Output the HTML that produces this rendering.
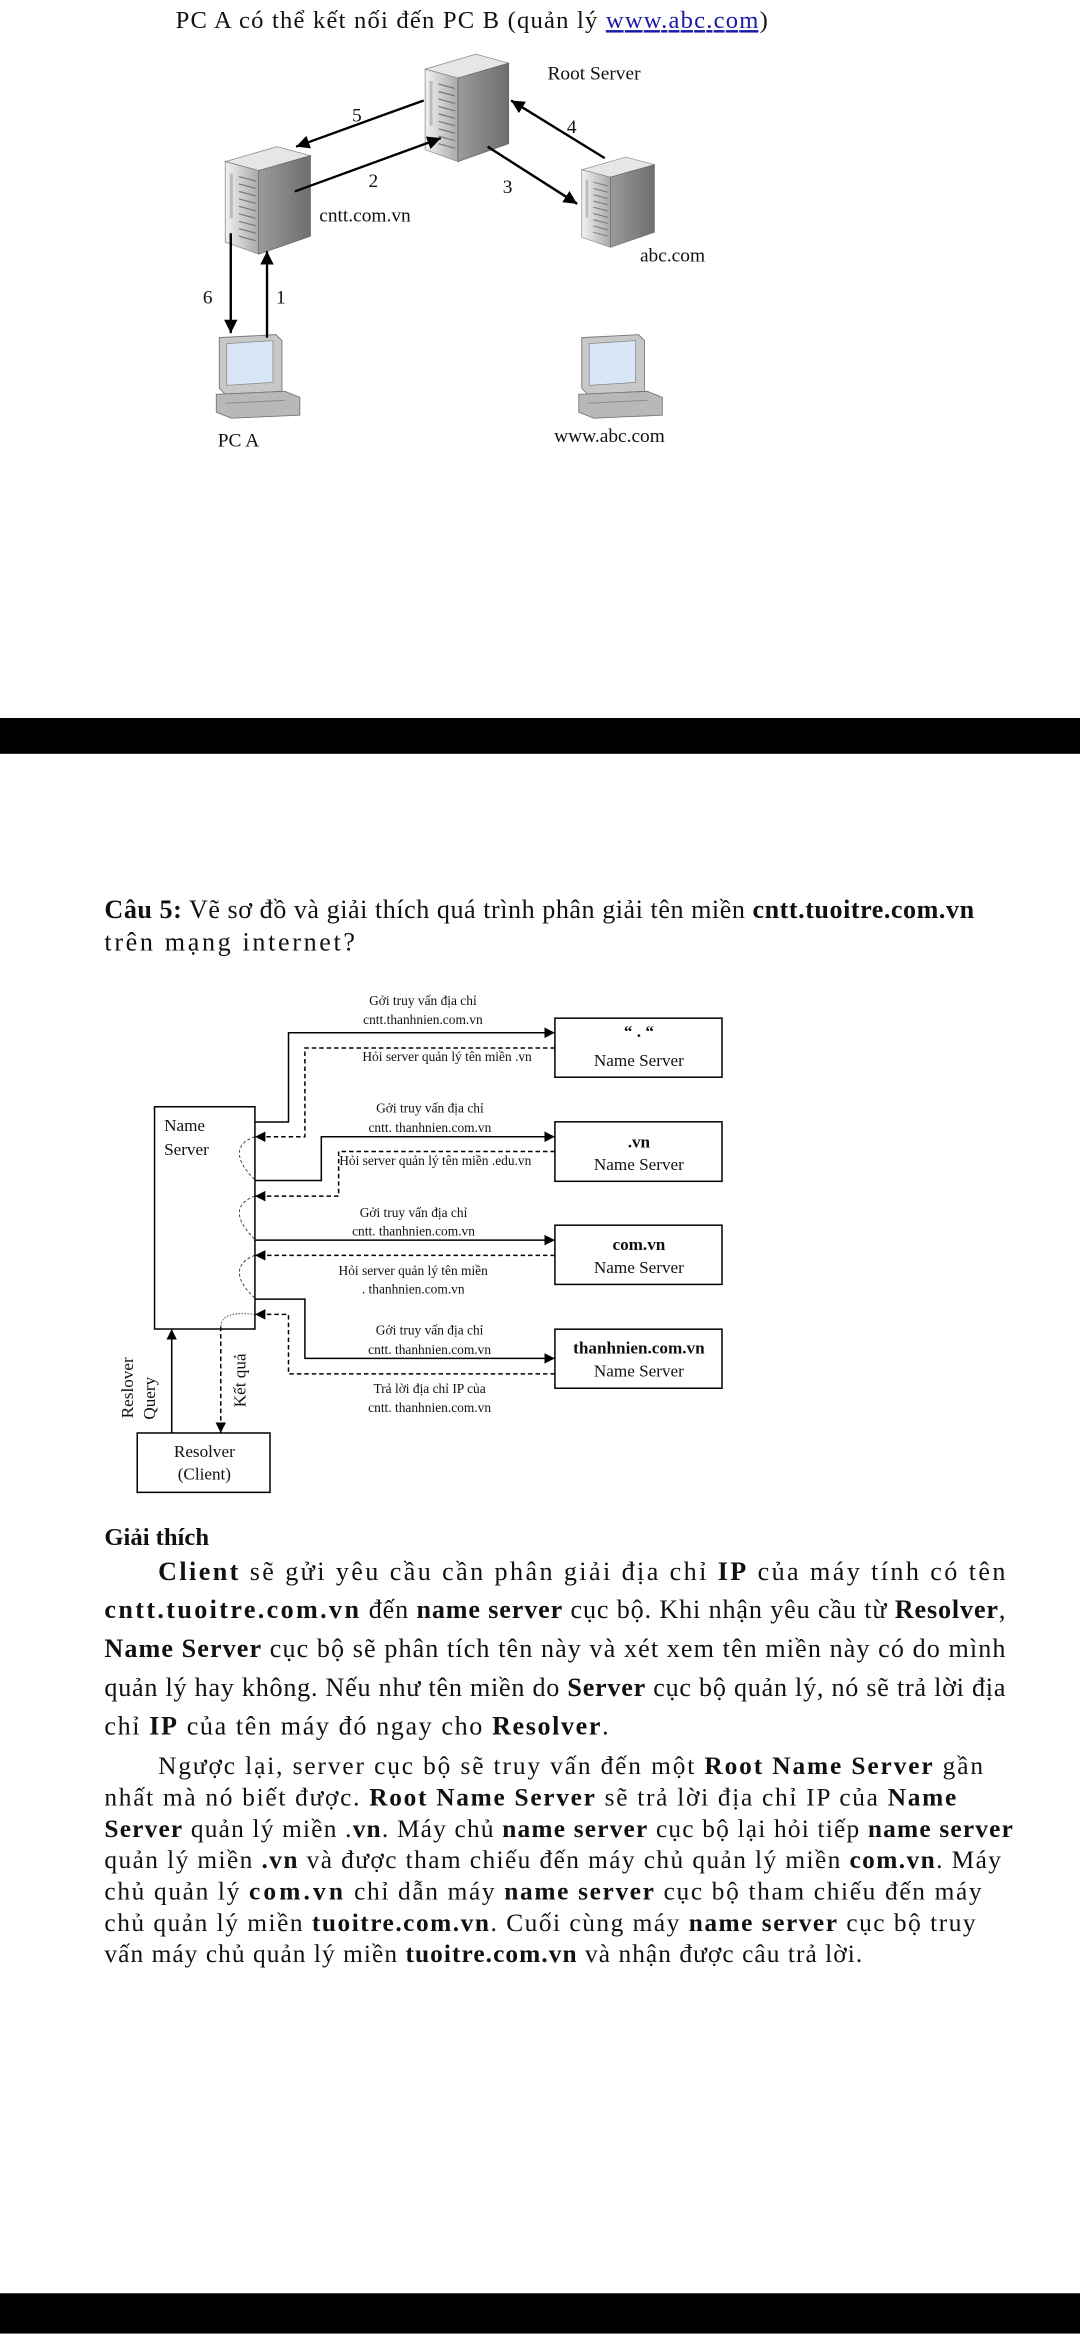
<!DOCTYPE html>
<html><head><meta charset="utf-8"><style>
html,body{margin:0;padding:0;background:#fff;}
svg{display:block;}
text{font-family:"Liberation Serif","DejaVu Serif",serif;fill:#111;}
.b{font-weight:bold;}
</style></head><body>
<svg width="1080" height="2340" viewBox="0 0 724 1560" xmlns="http://www.w3.org/2000/svg">
<defs>
<marker id="ah" viewBox="0 0 10 10" refX="10" refY="5" markerWidth="7" markerHeight="7" orient="auto" markerUnits="userSpaceOnUse"><path d="M0,0 L10,5 L0,10 z" fill="#000"/></marker>
<marker id="ah2" viewBox="0 0 10 10" refX="10" refY="5" markerWidth="9" markerHeight="9" orient="auto" markerUnits="userSpaceOnUse"><path d="M0,0 L10,5 L0,10 z" fill="#000"/></marker>
<linearGradient id="gf" x1="0" x2="1"><stop offset="0" stop-color="#f2f2f2"/><stop offset="1" stop-color="#a8a8a8"/></linearGradient>
<linearGradient id="gs" x1="0" x2="1"><stop offset="0" stop-color="#9a9a9a"/><stop offset="1" stop-color="#6e6e6e"/></linearGradient>
<g id="srv">
<polygon points="0,10 34,0 56,6 22,16" fill="#e6e6e6" stroke="#888" stroke-width="0.5"/>
<polygon points="0,10 22,16 22,72 0,64" fill="url(#gf)" stroke="#888" stroke-width="0.5"/>
<polygon points="22,16 56,6 56,60 22,72" fill="url(#gs)" stroke="#666" stroke-width="0.5"/>
<g stroke="#777" stroke-width="0.8">
<line x1="9" y1="20" x2="20" y2="23"/><line x1="9" y1="25" x2="20" y2="28"/><line x1="9" y1="30" x2="20" y2="33"/><line x1="9" y1="35" x2="20" y2="38"/><line x1="9" y1="40" x2="20" y2="43"/><line x1="9" y1="45" x2="20" y2="48"/><line x1="9" y1="50" x2="20" y2="53"/><line x1="9" y1="55" x2="20" y2="58"/><line x1="9" y1="60" x2="20" y2="63"/>
</g>
<rect x="3" y="18" width="2" height="30" fill="#bbb"/>
</g>
<g id="pc">
<polygon points="2,2 40,0 44,4 44,38 6,40 2,36" fill="#c8c8c8" stroke="#777" stroke-width="0.6"/>
<polygon points="7,6 38,4 38,32 7,34" fill="#d8e6f8" stroke="#888" stroke-width="0.5"/>
<polygon points="0,40 46,38 56,42 56,54 10,56 0,52" fill="#b8b8b8" stroke="#777" stroke-width="0.6"/>
<line x1="6" y1="46" x2="46" y2="44" stroke="#888" stroke-width="0.6"/>
</g>
</defs>

<text x="117.7" y="14.5" font-size="16.5" textLength="397" lengthAdjust="spacing">PC A có thể kết nối đến PC B (quản lý <tspan fill="#1a1aa6" text-decoration="underline">www.abc.com</tspan>)</text>

<use href="#srv" transform="translate(285,32)"/>
<use href="#srv" transform="translate(151,94) scale(1.02,1)"/>
<use href="#srv" transform="translate(390,101) scale(0.87,0.84)"/>
<use href="#pc" transform="translate(145,220)"/>
<use href="#pc" transform="translate(388,220)"/>

<g font-size="13">
<text x="367" y="49">Root Server</text>
<text x="214" y="144">cntt.com.vn</text>
<text x="429" y="171">abc.com</text>
<text x="146" y="295">PC A</text>
<text x="371.5" y="292">www.abc.com</text>
<text x="236" y="77">5</text>
<text x="247" y="121">2</text>
<text x="337" y="125">3</text>
<text x="380" y="85">4</text>
<text x="136" y="199">6</text>
<text x="185" y="199">1</text>
</g>
<g stroke="#000" stroke-width="1.6" fill="none">
<line x1="284" y1="63" x2="198.5" y2="94" marker-end="url(#ah2)"/>
<line x1="197.6" y1="124" x2="295.5" y2="88.3" marker-end="url(#ah2)"/>
<line x1="326.9" y1="94" x2="386.9" y2="132.3" marker-end="url(#ah2)"/>
<line x1="405.4" y1="101.7" x2="342.6" y2="63" marker-end="url(#ah2)"/>
<line x1="154.7" y1="152" x2="154.7" y2="219" marker-end="url(#ah2)"/>
<line x1="179" y1="222" x2="179" y2="164" marker-end="url(#ah2)"/>
</g>

<rect x="0" y="477" width="724" height="24" fill="#000"/>
<rect x="0" y="1533" width="724" height="27" fill="#000"/>

<text x="70" y="611" font-size="17.5" textLength="583" lengthAdjust="spacing"><tspan class="b">Câu 5:</tspan> Vẽ sơ đồ và giải thích quá trình phân giải tên miền <tspan class="b">cntt.tuoitre.com.vn</tspan></text>
<text x="70" y="633" font-size="17.5" textLength="168" lengthAdjust="spacing">trên mạng internet?</text>

<g fill="none" stroke="#000" stroke-width="1">
<rect x="103.6" y="737.6" width="67.3" height="149"/>
<rect x="92" y="956.3" width="89" height="39.8"/>
<rect x="372" y="678.2" width="112" height="39.6"/>
<rect x="372" y="747.7" width="112" height="39.9"/>
<rect x="372" y="817" width="112" height="39.7"/>
<rect x="372" y="886.7" width="112" height="39.6"/>
</g>
<g fill="none" stroke="#000" stroke-width="1">
<polyline points="170.9,747.8 193.4,747.8 193.4,688 372,688" marker-end="url(#ah)"/>
<polyline points="170.9,787 215.4,787 215.4,757.7 372,757.7" marker-end="url(#ah)"/>
<polyline points="170.9,827 372,827" marker-end="url(#ah)"/>
<polyline points="170.9,866.6 204.4,866.6 204.4,906.3 372,906.3" marker-end="url(#ah)"/>
<line x1="115.1" y1="956.3" x2="115.1" y2="886.7" marker-end="url(#ah)"/>
</g>
<g fill="none" stroke="#000" stroke-width="1" stroke-dasharray="3,2">
<polyline points="372,698.2 204.4,698.2 204.4,757.7 170.9,757.7" marker-end="url(#ah)"/>
<polyline points="372,767.6 227,767.6 227,797.5 170.9,797.5" marker-end="url(#ah)"/>
<polyline points="372,837.2 170.9,837.2" marker-end="url(#ah)"/>
<polyline points="372,916.7 193.4,916.7 193.4,876.8 170.9,876.8" marker-end="url(#ah)"/>
<line x1="148" y1="885" x2="148" y2="956.3" marker-end="url(#ah)"/>
</g>
<g fill="none" stroke="#333" stroke-width="0.6" stroke-dasharray="2,1.5">
<path d="M170.9,757.7 C158,762 156,772 170.9,786.5"/>
<path d="M170.9,797.5 C158,802 156,812 170.9,826.5"/>
<path d="M170.9,837.2 C158,842 156,852 170.9,866"/>
<path d="M170.9,876.8 C160,876 148,875 148,886" stroke-dasharray="1,1"/>
</g>

<g font-size="9" text-anchor="middle">
<text x="283.5" y="669.5">Gởi truy vấn địa chỉ</text>
<text x="283.5" y="682.3">cntt.thanhnien.com.vn</text>
<text x="299.7" y="707">Hỏi server quản lý tên miền .vn</text>
<text x="288.2" y="741.5">Gởi truy vấn địa chỉ</text>
<text x="288.2" y="754.4">cntt. thanhnien.com.vn</text>
<text x="291.8" y="776.8">Hỏi server quản lý tên miền .edu.vn</text>
<text x="277.2" y="811.4">Gởi truy vấn địa chỉ</text>
<text x="277.2" y="824">cntt. thanhnien.com.vn</text>
<text x="277" y="850.5">Hỏi server quản lý tên miền</text>
<text x="277" y="862.7">. thanhnien.com.vn</text>
<text x="288" y="890.4">Gởi truy vấn địa chỉ</text>
<text x="288" y="903.5">cntt. thanhnien.com.vn</text>
<text x="288" y="929.6">Trả lời địa chỉ IP của</text>
<text x="288" y="942.2">cntt. thanhnien.com.vn</text>
</g>
<g font-size="11.5" text-anchor="middle">
<text x="428.3" y="691" class="b">“ . “</text>
<text x="428.3" y="710.4">Name Server</text>
<text x="428.3" y="765" class="b">.vn</text>
<text x="428.3" y="780">Name Server</text>
<text x="428.3" y="833.5" class="b">com.vn</text>
<text x="428.3" y="849">Name Server</text>
<text x="428.3" y="903" class="b">thanhnien.com.vn</text>
<text x="428.3" y="918.3">Name Server</text>
<text x="137" y="972.5">Resolver</text>
<text x="137" y="987.5">(Client)</text>
</g>
<g font-size="11.5">
<text x="110" y="754">Name</text>
<text x="110" y="770">Server</text>
<text transform="translate(89,926) rotate(-90)" text-anchor="middle">Reslover</text>
<text transform="translate(104,933) rotate(-90)" text-anchor="middle">Query</text>
<text transform="translate(164.5,921) rotate(-90)" text-anchor="middle">Kết quả</text>
</g>

<text x="70" y="1031.5" font-size="16.5" class="b">Giải thích</text>
<g font-size="17.5">
<text x="106" y="1055" textLength="568" lengthAdjust="spacing"><tspan class="b">Client</tspan> sẽ gửi yêu cầu cần phân giải địa chỉ <tspan class="b">IP</tspan> của máy tính có tên</text>
<text x="70" y="1080.5" textLength="604" lengthAdjust="spacing"><tspan class="b" letter-spacing="1">cntt.tuoitre.com.vn</tspan> đến <tspan class="b">name server</tspan> cục bộ. Khi nhận yêu cầu từ <tspan class="b">Resolver</tspan>,</text>
<text x="70" y="1106.5" textLength="604" lengthAdjust="spacing"><tspan class="b">Name Server</tspan> cục bộ sẽ phân tích tên này và xét xem tên miền này có do mình</text>
<text x="70" y="1132.5" textLength="604" lengthAdjust="spacing">quản lý hay không. Nếu như tên miền do <tspan class="b">Server</tspan> cục bộ quản lý, nó sẽ trả lời địa</text>
<text x="70" y="1158.5" textLength="338" lengthAdjust="spacing">chỉ <tspan class="b">IP</tspan> của tên máy đó ngay cho <tspan class="b">Resolver</tspan>.</text>
</g>
<g font-size="17">
<text x="106" y="1185" textLength="553" lengthAdjust="spacing">Ngược lại, server cục bộ sẽ truy vấn đến một <tspan class="b">Root Name Server</tspan> gần</text>
<text x="70" y="1206" textLength="571" lengthAdjust="spacing">nhất mà nó biết được. <tspan class="b">Root Name Server</tspan> sẽ trả lời địa chỉ IP của <tspan class="b">Name</tspan></text>
<text x="70" y="1227" textLength="609" lengthAdjust="spacing"><tspan class="b">Server</tspan> quản lý miền .<tspan class="b">vn</tspan>. Máy chủ <tspan class="b">name server</tspan> cục bộ lại hỏi tiếp <tspan class="b">name server</tspan></text>
<text x="70" y="1248" textLength="601" lengthAdjust="spacing">quản lý miền <tspan class="b">.vn</tspan> và được tham chiếu đến máy chủ quản lý miền <tspan class="b">com.vn</tspan>. Máy</text>
<text x="70" y="1269" textLength="588" lengthAdjust="spacing">chủ quản lý <tspan class="b" letter-spacing="1">com.vn</tspan> chỉ dẫn máy <tspan class="b">name server</tspan> cục bộ tham chiếu đến máy</text>
<text x="70" y="1290" textLength="584" lengthAdjust="spacing">chủ quản lý miền <tspan class="b">tuoitre.com.vn</tspan>. Cuối cùng máy <tspan class="b">name server</tspan> cục bộ truy</text>
<text x="70" y="1311" textLength="508" lengthAdjust="spacing">vấn máy chủ quản lý miền <tspan class="b">tuoitre.com.vn</tspan> và nhận được câu trả lời.</text>
</g>
</svg>
</body></html>
